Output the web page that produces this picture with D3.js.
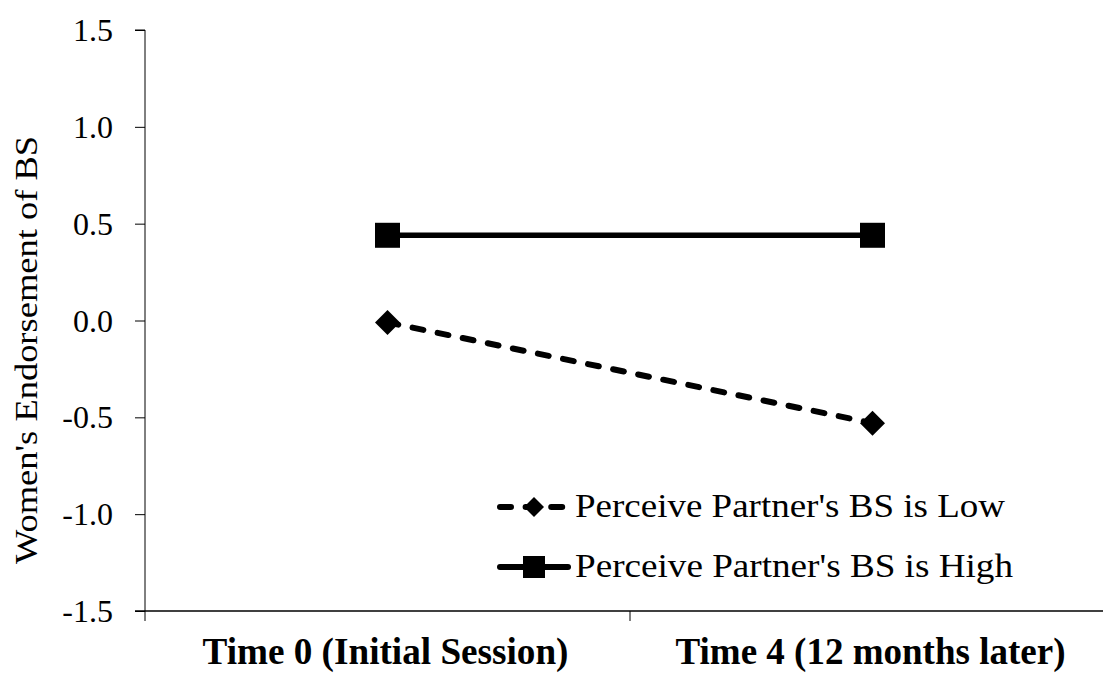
<!DOCTYPE html>
<html><head><meta charset="utf-8">
<script src="https://cdn.jsdelivr.net/npm/d3@7"></script>
<style>svg text{font-family:"Liberation Serif","Times New Roman" !important}</style>
</head><body style="margin:0">
<svg id="c" width="1103" height="675"></svg>
<script>
const categories = ["Time 0 (Initial Session)", "Time 4 (12 months later)"];
const lowValues = [-0.01, -0.53];
const highValues = [0.44, 0.44];
const seriesNames = ["Perceive Partner's BS is Low", "Perceive Partner's BS is High"];
const yTicks = [-1.5, -1.0, -0.5, 0.0, 0.5, 1.0, 1.5];
const yTitle = "Women's Endorsement of BS";

const FF = '"Liberation Serif", "Times New Roman"';
const svg = d3.select("#c");
const L = 145, R = 1115, T = 30, B = 611;
const x = d3.scaleBand().domain(categories).range([L, R]);
const y = d3.scaleLinear().domain([-1.5, 1.5]).range([B, T]);
const fmt = d => d3.format(".1f")(d).replace("\u2212", "-");
const setFont = (sel, size, weight) => sel.style("font-family", FF, "important")
  .style("font-size", size + "px", "important").style("font-weight", weight || "normal", "important");

// y axis
const ya = svg.append("g").attr("transform", `translate(${L},0)`)
  .call(d3.axisLeft(y).tickValues(yTicks).tickSize(10).tickFormat(fmt).tickPadding(22));
ya.attr("font-family", null).attr("font-size", null);
ya.select(".domain").attr("stroke", "#000").attr("d", `M-10,${T}H0V${B}`);
ya.selectAll(".tick line").attr("stroke", "#000");
ya.selectAll(".tick text").attr("fill", "#000").attr("dy", "0.33em").call(setFont, 32);

// x axis
const xa = svg.append("g").attr("transform", `translate(0,${B})`);
xa.append("line").attr("x1", L - 10).attr("x2", R).attr("y1", 0).attr("y2", 0).attr("stroke", "#000").attr("stroke-width", 1.5);
const bounds = [L, ...categories.slice(1).map(c => x(c))];
xa.selectAll("line.t").data(bounds).join("line").attr("class", "t")
  .attr("x1", d => d).attr("x2", d => d).attr("y1", 0).attr("y2", 10).attr("stroke", "#000");
const xLabelW = [366, 390];
xa.selectAll("text").data(categories).join("text")
  .attr("x", d => x(d) + x.bandwidth() / 2 - 2).attr("y", 53)
  .attr("text-anchor", "middle").attr("fill", "#000").call(setFont, 38, "bold")
  .attr("textLength", (d, i) => xLabelW[i]).attr("lengthAdjust", "spacingAndGlyphs").text(d => d);

// y title
svg.append("text").attr("transform", `translate(37,350) rotate(-90)`)
  .attr("text-anchor", "middle").attr("fill", "#000").call(setFont, 32)
  .attr("textLength", 428).attr("lengthAdjust", "spacingAndGlyphs").text(yTitle);

const cx = d => x(d) + x.bandwidth() / 2;
const line = d3.line().x(d => cx(d.c)).y(d => y(d.v));
const lowData = categories.map((c, i) => ({c, v: lowValues[i]}));
const highData = categories.map((c, i) => ({c, v: highValues[i]}));

svg.append("path").datum(lowData).attr("d", line).attr("fill", "none").attr("stroke", "#000")
  .attr("stroke-width", 6).attr("stroke-dasharray", "11,14.6").attr("stroke-linecap", "round");
svg.append("path").datum(highData).attr("d", line).attr("fill", "none").attr("stroke", "#000")
  .attr("stroke-width", 5.5);

const diamond = s => `M0,${-s}L${s},0L0,${s}L${-s},0Z`;
svg.selectAll("path.dm").data(lowData).join("path").attr("class", "dm")
  .attr("transform", d => `translate(${cx(d.c)},${y(d.v)})`).attr("d", diamond(12.5)).attr("fill", "#000");
svg.selectAll("rect.sq").data(highData).join("rect").attr("class", "sq")
  .attr("x", d => cx(d.c) - 12.5).attr("y", d => y(d.v) - 12.5).attr("width", 25).attr("height", 25).attr("fill", "#000");

// legend
const lg = svg.append("g");
const ly = [507, 567];
lg.append("line").attr("x1", 500).attr("x2", 568).attr("y1", ly[0]).attr("y2", ly[0]).attr("stroke", "#000")
  .attr("stroke-width", 6).attr("stroke-dasharray", "11,14.6").attr("stroke-linecap", "round");
lg.append("path").attr("transform", `translate(534,${ly[0]})`).attr("d", diamond(10)).attr("fill", "#000");
lg.append("line").attr("x1", 500).attr("x2", 568).attr("y1", ly[1]).attr("y2", ly[1]).attr("stroke", "#000")
  .attr("stroke-width", 6).attr("stroke-linecap", "round");
lg.append("rect").attr("x", 523).attr("y", ly[1] - 11).attr("width", 22).attr("height", 22).attr("fill", "#000");
const legW = [430, 438];
lg.selectAll("text").data(seriesNames).join("text").attr("x", 575).attr("y", (d, i) => ly[i] + 10)
  .attr("fill", "#000").call(setFont, 33)
  .attr("textLength", (d, i) => legW[i]).attr("lengthAdjust", "spacingAndGlyphs").text(d => d);
</script>
</body></html>
